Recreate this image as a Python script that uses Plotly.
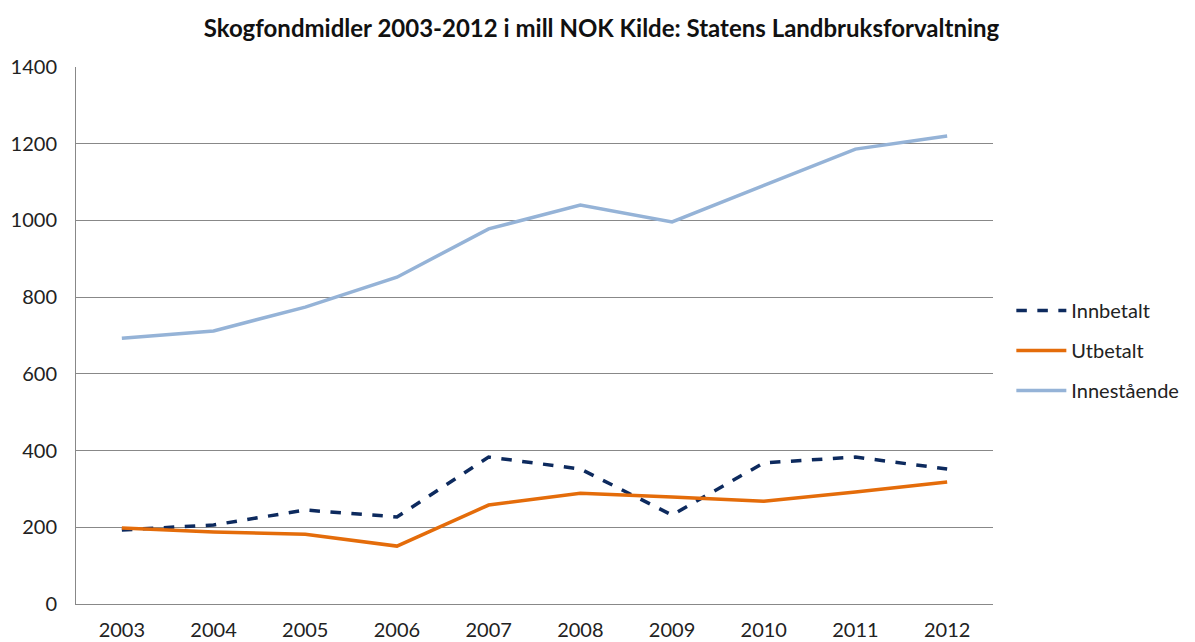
import plotly.graph_objects as go

years = ["2003", "2004", "2005", "2006", "2007", "2008", "2009", "2010", "2011", "2012"]
innbetalt = [193, 206, 245, 227, 383, 352, 232, 368, 383, 352]
utbetalt = [198, 188, 182, 151, 258, 289, 279, 268, 292, 318]
innestaende = [693, 712, 774, 852, 978, 1040, 996, 1092, 1186, 1220]
y_ticks = [0, 200, 400, 600, 800, 1000, 1200, 1400]

font_family = "Lato, 'Open Sans', sans-serif"

fig = go.Figure()
fig.add_trace(go.Scatter(x=years, y=innbetalt, mode="lines", name="Innbetalt",
                         legendgroup="a",
                         line=dict(color="#0d2a5e", width=3.5, dash="dash")))
fig.add_trace(go.Scatter(x=years, y=utbetalt, mode="lines", name="Utbetalt",
                         legendgroup="b",
                         line=dict(color="#e46c0a", width=3.5)))
fig.add_trace(go.Scatter(x=years, y=innestaende, mode="lines", name="Innestående",
                         legendgroup="c",
                         line=dict(color="#95b3d7", width=3.5)))

fig.update_layout(
    width=1187, height=634,
    paper_bgcolor="white", plot_bgcolor="white",
    margin=dict(l=68, r=202, t=59, b=38, autoexpand=False),
    font=dict(family=font_family, size=20, color="#222222"),
    title=dict(text="<b>Skogfondmidler 2003-2012 i mill NOK Kilde: Statens Landbruksforvaltning</b>",
               x=0.5, xanchor="center", y=0.968, yanchor="middle",
               font=dict(size=24, color="#111111")),
    showlegend=True,
    legend=dict(x=1.02, y=0.472, xanchor="left", yanchor="middle",
                font=dict(size=20), itemwidth=50, tracegroupgap=11,
                bgcolor="rgba(0,0,0,0)"),
    xaxis=dict(type="category", range=[-0.5, 9.5], showgrid=False,
               showline=True, linecolor="#888888", linewidth=1, automargin=False,
               ticks="", tickfont=dict(size=20), ticklabelstandoff=8),
    yaxis=dict(range=[0, 1400], tickvals=y_ticks, showgrid=True,
               gridcolor="#888888", gridwidth=1, showline=True, automargin=False,
               linecolor="#888888", linewidth=1, ticks="",
               tickfont=dict(size=20), ticklabelstandoff=14, zeroline=False),
)

fig.write_html("out.html")
